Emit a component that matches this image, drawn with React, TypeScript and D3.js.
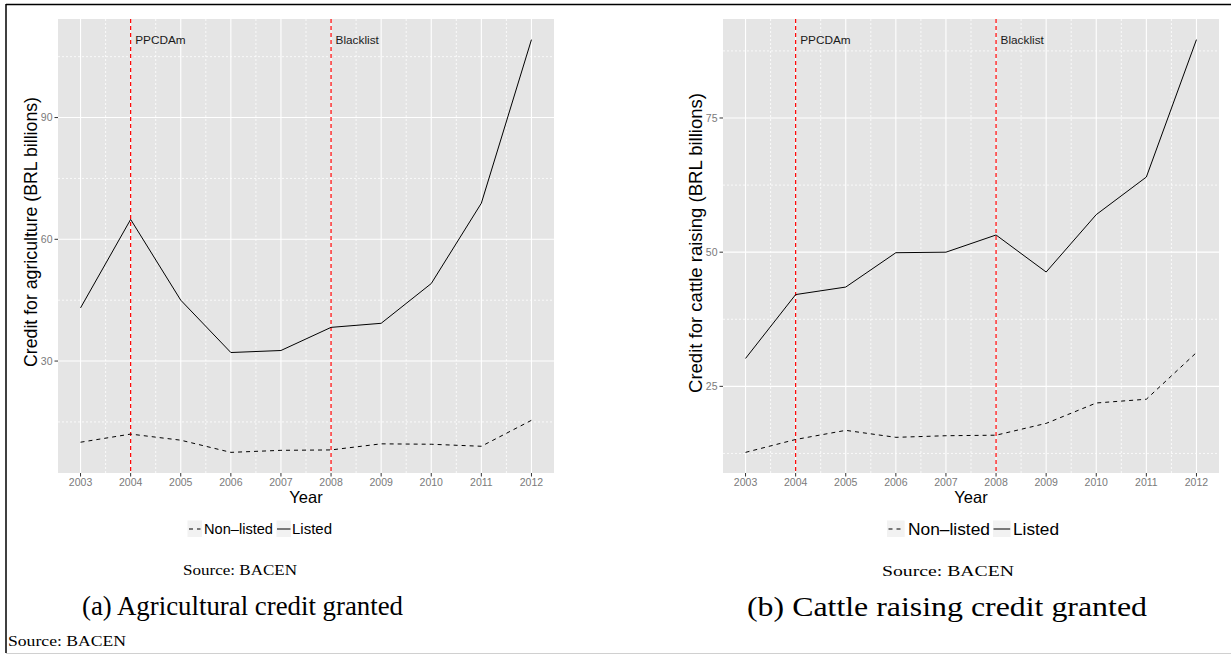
import React from "react";
import * as d3 from "d3";

const years = [2003, 2004, 2005, 2006, 2007, 2008, 2009, 2010, 2011, 2012];
const agriListed = [43.1, 64.9, 45.0, 32.1, 32.6, 38.3, 39.3, 49.1, 68.9, 109.2];
const agriNonListed = [10.0, 12.0, 10.5, 7.5, 8.0, 8.1, 9.6, 9.5, 9.0, 15.4];
const cattleListed = [30.2, 42.1, 43.5, 49.9, 50.0, 53.2, 46.3, 57.0, 64.0, 89.6];
const cattleNonListed = [12.7, 15.1, 16.8, 15.5, 15.8, 15.9, 18.1, 21.9, 22.6, 31.3];
const agriTicks = [30, 60, 90];
const agriMinor = [15, 45, 75, 105];
const cattleTicks = [25, 50, 75];
const cattleMinor = [12.5, 37.5, 62.5, 87.5];
const eventYears = [2004, 2008];
const eventLabels = ["PPCDAm", "Blacklist"];
const seriesNames = ["Non\u2013listed", "Listed"];

const SANS = "'Liberation Sans', Arial, Helvetica, sans-serif";
const SERIF = "'Liberation Serif', 'Times New Roman', serif";

type PanelProps = {
  x0: number;
  x1: number;
  listed: number[];
  nonListed: number[];
  ticks: number[];
  minor: number[];
  yTitle: string;
  yTitleX: number;
  yTitleY: number;
  yTitleLen: number;
  yTitleSize: number;
  legend: { k1: number; t1: number; k2: number; t2: number; kw: number; size: number; base: number; w1: number; w2: number };
};

function Panel(p: PanelProps) {
  const top = 19;
  const bottom = 473;
  const all = [...p.listed, ...p.nonListed];
  const [mn, mx] = d3.extent(all) as [number, number];
  const pad = (mx - mn) * 0.05;
  const y = d3.scaleLinear().domain([mn - pad, mx + pad]).range([bottom, top]);
  const xpad = (years[years.length - 1] - years[0]) * 0.05;
  const x = d3.scaleLinear().domain([years[0] - xpad, years[years.length - 1] + xpad]).range([p.x0, p.x1]);
  const line = d3
    .line<number>()
    .x((_, i) => x(years[i]))
    .y((d) => y(d));
  const halfYears = d3.range(years[0] - 0.5, years[years.length - 1] + 1, 1).filter((v) => x(v) > p.x0 && x(v) < p.x1);
  const minorIn = p.minor.filter((v) => y(v) > top && y(v) < bottom);
  const cx = (p.x0 + p.x1) / 2;
  const lg = p.legend;
  return (
    <g>
      <rect x={p.x0} y={top} width={p.x1 - p.x0} height={bottom - top} fill="#e5e5e5" />
      {minorIn.map((v) => (
        <line key={"hm" + v} x1={p.x0} x2={p.x1} y1={y(v)} y2={y(v)} stroke="#fff" strokeWidth={0.8} strokeDasharray="2,2" />
      ))}
      {halfYears.map((v) => (
        <line key={"vm" + v} x1={x(v)} x2={x(v)} y1={top} y2={bottom} stroke="#fff" strokeWidth={0.8} strokeDasharray="2,2" />
      ))}
      {p.ticks.map((v) => (
        <line key={"h" + v} x1={p.x0} x2={p.x1} y1={y(v)} y2={y(v)} stroke="#fff" strokeWidth={1.1} />
      ))}
      {years.map((v) => (
        <line key={"v" + v} x1={x(v)} x2={x(v)} y1={top} y2={bottom} stroke="#fff" strokeWidth={1.1} />
      ))}
      {eventYears.map((v, i) => (
        <g key={"e" + v}>
          <line x1={x(v)} x2={x(v)} y1={top} y2={bottom} stroke="#ff0000" strokeWidth={1.2} strokeDasharray="4,3" />
          <text x={x(v) + 4.5} y={y(mx)} dy="0.35em" fontFamily={SANS} fontSize={11.8} fill="#1a1a1a">
            {eventLabels[i]}
          </text>
        </g>
      ))}
      <path d={line(p.nonListed) || ""} fill="none" stroke="#000" strokeWidth={1} strokeDasharray="4,4" />
      <path d={line(p.listed) || ""} fill="none" stroke="#000" strokeWidth={1} />
      {p.ticks.map((v) => (
        <g key={"yt" + v}>
          <line x1={p.x0 - 3.5} x2={p.x0} y1={y(v)} y2={y(v)} stroke="#333" strokeWidth={1} />
          <text x={p.x0 - 5.5} y={y(v)} dy="0.35em" textAnchor="end" fontFamily={SANS} fontSize={10.5} fill="#7a7a7a">
            {v}
          </text>
        </g>
      ))}
      {years.map((v) => (
        <g key={"xt" + v}>
          <line x1={x(v)} x2={x(v)} y1={bottom} y2={bottom + 3.5} stroke="#333" strokeWidth={1} />
          <text x={x(v)} y={486} textAnchor="middle" fontFamily={SANS} fontSize={10.5} fill="#7a7a7a">
            {v}
          </text>
        </g>
      ))}
      <text x={cx} y={503} textAnchor="middle" fontFamily={SANS} fontSize={16.5} fill="#000">
        Year
      </text>
      <text
        transform={`translate(${p.yTitleX},${p.yTitleY}) rotate(-90)`}
        textAnchor="middle"
        dy="0.35em"
        fontFamily={SANS}
        fontSize={p.yTitleSize}
        textLength={p.yTitleLen}
        lengthAdjust="spacingAndGlyphs"
        fill="#000"
      >
        {p.yTitle}
      </text>
      <rect x={lg.k1} y={520.5} width={lg.kw} height={16.5} fill="#f2f2f2" />
      <line x1={lg.k1 + 1.5} x2={lg.k1 + lg.kw - 1.5} y1={529} y2={529} stroke="#000" strokeWidth={1} strokeDasharray="4,4" />
      <text x={lg.t1} y={lg.base} fontFamily={SANS} fontSize={lg.size} textLength={lg.w1} lengthAdjust="spacingAndGlyphs" fill="#000">
        {seriesNames[0]}
      </text>
      <rect x={lg.k2} y={520.5} width={lg.kw} height={16.5} fill="#f2f2f2" />
      <line x1={lg.k2 + 0.5} x2={lg.k2 + lg.kw - 0.5} y1={529} y2={529} stroke="#000" strokeWidth={1} />
      <text x={lg.t2} y={lg.base} fontFamily={SANS} fontSize={lg.size} textLength={lg.w2} lengthAdjust="spacingAndGlyphs" fill="#000">
        {seriesNames[1]}
      </text>
    </g>
  );
}

export default function App() {
  return (
    <svg
      width={1231}
      height={655}
      style={{ position: "absolute", left: 0, top: 0, background: "#fff" }}
      xmlns="http://www.w3.org/2000/svg"
    >
      <rect x={0} y={0} width={1231} height={655} fill="#fff" />
      <Panel
        x0={58}
        x1={554}
        listed={agriListed}
        nonListed={agriNonListed}
        ticks={agriTicks}
        minor={agriMinor}
        yTitle="Credit for agriculture (BRL billions)"
        yTitleX={30.5}
        yTitleY={232}
        yTitleLen={270}
        yTitleSize={17.5}
        legend={{ k1: 187.5, t1: 204, k2: 276.5, t2: 292, kw: 14.5, size: 14.7, base: 534, w1: 69, w2: 40 }}
      />
      <Panel
        x0={723}
        x1={1219}
        listed={cattleListed}
        nonListed={cattleNonListed}
        ticks={cattleTicks}
        minor={cattleMinor}
        yTitle="Credit for cattle raising (BRL billions)"
        yTitleX={696}
        yTitleY={243}
        yTitleLen={300}
        yTitleSize={18.3}
        legend={{ k1: 887, t1: 908, k2: 993, t2: 1013, kw: 17.7, size: 17.3, base: 535, w1: 82, w2: 46 }}
      />
      <text x={183} y={575} fontFamily={SERIF} fontSize={14.5} textLength={114} lengthAdjust="spacingAndGlyphs" fill="#000">
        Source: BACEN
      </text>
      <text x={82} y={615} fontFamily={SERIF} fontSize={26.5} textLength={321} lengthAdjust="spacingAndGlyphs" fill="#000">
        (a) Agricultural credit granted
      </text>
      <text x={882} y={576} fontFamily={SERIF} fontSize={15} textLength={132} lengthAdjust="spacingAndGlyphs" fill="#000">
        Source: BACEN
      </text>
      <text x={747} y={616} fontFamily={SERIF} fontSize={26.5} textLength={400} lengthAdjust="spacingAndGlyphs" fill="#000">
        (b) Cattle raising credit granted
      </text>
      <text x={8} y={646} fontFamily={SERIF} fontSize={14.5} textLength={118} lengthAdjust="spacingAndGlyphs" fill="#000">
        Source: BACEN
      </text>
      <line x1={6} x2={1231} y1={4.5} y2={4.5} stroke="#000" strokeWidth={1.5} />
      <line x1={6} x2={6} y1={4} y2={653} stroke="#000" strokeWidth={1.5} />
      <line x1={6} x2={1231} y1={653.5} y2={653.5} stroke="#d0d0d0" strokeWidth={1} />
    </svg>
  );
}
